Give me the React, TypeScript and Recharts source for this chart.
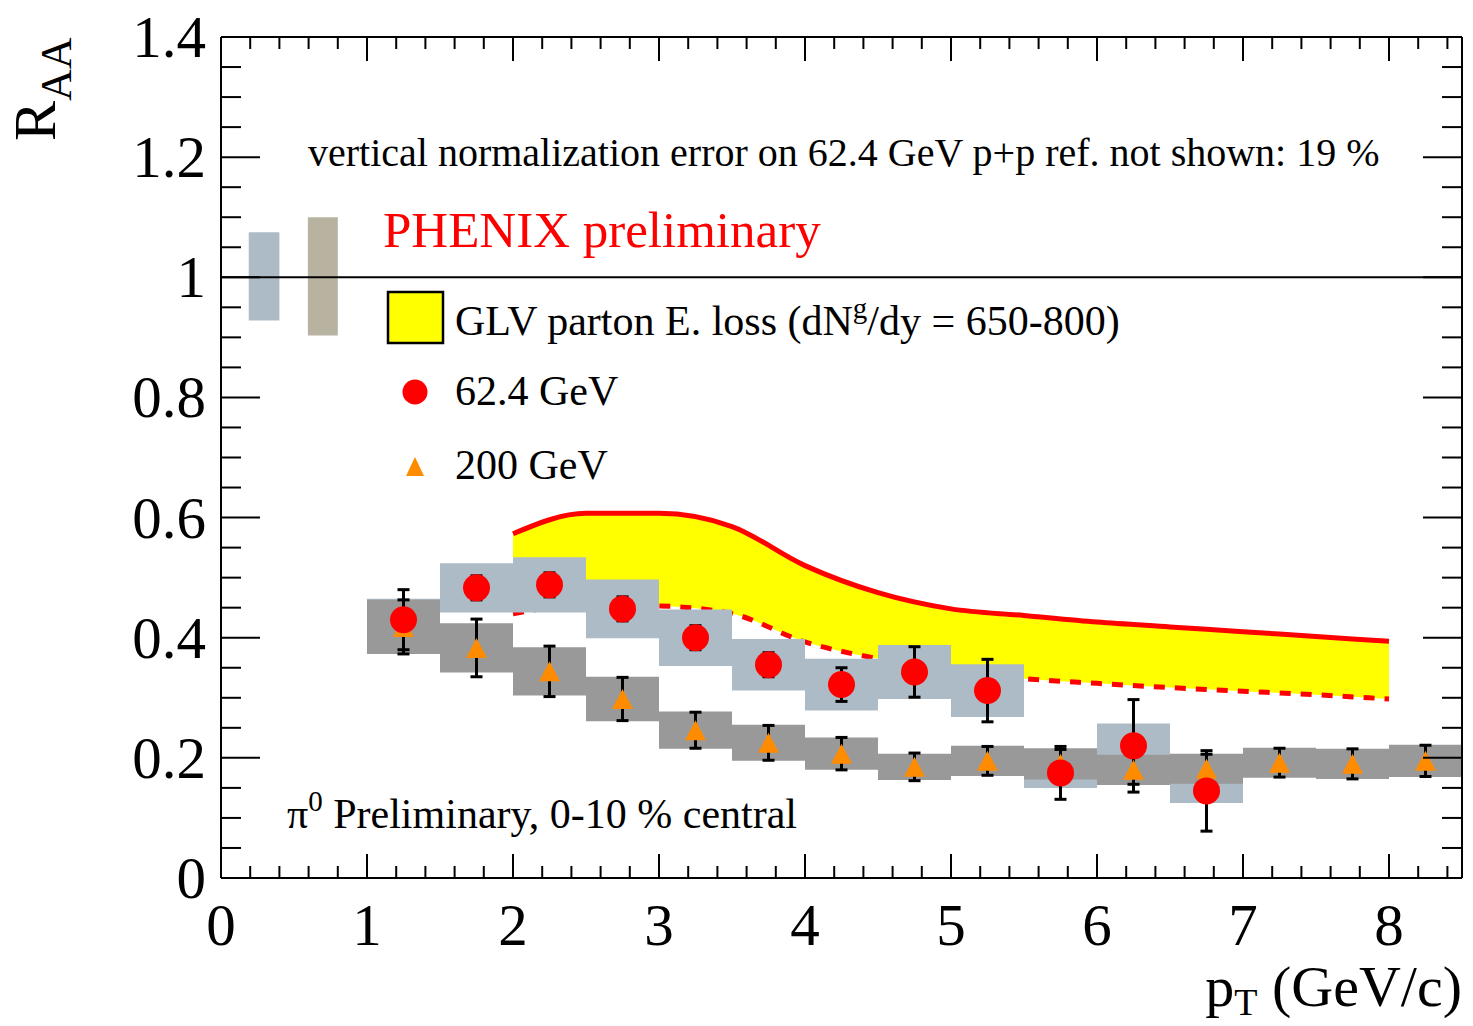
import {
  Area,
  ComposedChart,
  ErrorBar,
  Line,
  ReferenceArea,
  ReferenceLine,
  Scatter,
  XAxis,
  YAxis,
} from "recharts";

const FONT = '"Liberation Serif", "Times New Roman", serif';

// 62.4 GeV Au+Au pi0 RAA
const pt62 = [1.25, 1.75, 2.25, 2.75, 3.25, 3.75, 4.25, 4.75, 5.25, 5.75, 6.25, 6.75];
const raa62 = [0.43, 0.483, 0.488, 0.448, 0.4, 0.355, 0.322, 0.343, 0.312, 0.175, 0.22, 0.145];
const stat62 = [0.05, 0.02, 0.02, 0.02, 0.02, 0.02, 0.028, 0.042, 0.052, 0.044, 0.077, 0.067];
const sys62 = [0.035, 0.041, 0.046, 0.049, 0.047, 0.043, 0.043, 0.045, 0.044, 0.025, 0.037, 0.02];

// 200 GeV Au+Au pi0 RAA
const pt200 = [1.25, 1.75, 2.25, 2.75, 3.25, 3.75, 4.25, 4.75, 5.25, 5.75, 6.25, 6.75, 7.25, 7.75, 8.25];
const raa200 = [0.418, 0.383, 0.344, 0.298, 0.246, 0.225, 0.207, 0.185, 0.195, 0.19, 0.18, 0.182, 0.192, 0.19, 0.195];
const stat200 = [0.045, 0.048, 0.042, 0.036, 0.03, 0.029, 0.027, 0.023, 0.024, 0.024, 0.024, 0.024, 0.024, 0.025, 0.026];
const sys200 = [0.045, 0.041, 0.04, 0.037, 0.031, 0.03, 0.027, 0.022, 0.025, 0.026, 0.025, 0.025, 0.025, 0.025, 0.027];

// GLV parton energy loss band
const glvPt = [2, 2.5, 3, 3.5, 4, 4.5, 5, 5.5, 6, 6.5, 7, 7.5, 8];
const glvHigh = [0.573, 0.607, 0.607, 0.585, 0.52, 0.475, 0.448, 0.437, 0.426, 0.418, 0.41, 0.402, 0.394];
const glvLow = [0.44, 0.455, 0.453, 0.44, 0.393, 0.365, 0.345, 0.332, 0.324, 0.317, 0.311, 0.305, 0.298];

// normalization boxes at RAA = 1
const normX1 = [0.19, 0.595];
const normX2 = [0.4, 0.8];
const normLow = [0.928, 0.903];
const normHigh = [1.075, 1.1];
const normColor = ["#adbbc7", "#b8b3a0"];

const xTicks = Array.from({ length: 43 }, (_, k) => (k * 2) / 10);
const yTicks = Array.from({ length: 29 }, (_, k) => (k * 5) / 100);

const glvData = glvPt.map((x, i) => ({ x, lo: glvLow[i], hi: glvHigh[i], band: [glvLow[i], glvHigh[i]] }));
const data62 = pt62.map((x, i) => ({ x, y: raa62[i], err: stat62[i] }));
const data200 = pt200.map((x, i) => ({ x, y: raa200[i], err: stat200[i] }));

const isMajorY = (v: number) => Math.abs(v * 5 - Math.round(v * 5)) < 1e-9;

function BottomTick(p: any) {
  const v = p.payload.value as number;
  const major = Number.isInteger(v);
  return (
    <g>
      <line x1={p.x} x2={p.x} y1={p.y} y2={p.y - (major ? 24 : 12)} stroke="#000" strokeWidth={2} />
      {major && (
        <text x={p.x} y={p.y + 67} textAnchor="middle" fontSize={59} fontFamily={FONT} fill="#000">
          {v}
        </text>
      )}
    </g>
  );
}

function TopTick(p: any) {
  const major = Number.isInteger(p.payload.value);
  return <line x1={p.x} x2={p.x} y1={p.y} y2={p.y + (major ? 24 : 12)} stroke="#000" strokeWidth={2} />;
}

function LeftTick(p: any) {
  const v = p.payload.value as number;
  const major = isMajorY(v);
  return (
    <g>
      <line x1={p.x} x2={p.x + (major ? 39 : 20)} y1={p.y} y2={p.y} stroke="#000" strokeWidth={2} />
      {major && (
        <text x={p.x - 15} y={p.y + 20} textAnchor="end" fontSize={59} fontFamily={FONT} fill="#000">
          {String(Math.round(v * 10) / 10)}
        </text>
      )}
    </g>
  );
}

function RightTick(p: any) {
  const major = isMajorY(p.payload.value);
  return <line x1={p.x} x2={p.x - (major ? 39 : 20)} y1={p.y} y2={p.y} stroke="#000" strokeWidth={2} />;
}

const RedDot = (p: any) => <circle cx={p.cx} cy={p.cy} r={13.5} fill="#ff0000" />;
const OrangeTri = (p: any) => (
  <polygon
    points={`${p.cx},${p.cy - 10} ${p.cx - 10.5},${p.cy + 10} ${p.cx + 10.5},${p.cy + 10}`}
    fill="#ff8c00"
  />
);

const axisLine = { stroke: "#000", strokeWidth: 2 };

export default function App() {
  return (
    <div style={{ position: "absolute", left: 0, top: 0, width: 1473, height: 1026, background: "#fff" }}>
      <ComposedChart width={1473} height={1026} data={glvData} margin={{ top: 0, right: 0, bottom: 0, left: 0 }}>
        <XAxis
          type="number"
          dataKey="x"
          domain={[0, 8.5]}
          allowDataOverflow
          ticks={xTicks}
          interval={0}
          tickSize={0}
          tickMargin={0}
          tickLine={false}
          tick={(p: any) => <BottomTick {...p} />}
          height={148}
          axisLine={axisLine}
        />
        <XAxis
          xAxisId="top"
          orientation="top"
          type="number"
          dataKey="x"
          domain={[0, 8.5]}
          allowDataOverflow
          ticks={xTicks}
          interval={0}
          tickSize={0}
          tickMargin={0}
          tickLine={false}
          tick={(p: any) => <TopTick {...p} />}
          height={37}
          axisLine={axisLine}
        />
        <YAxis
          type="number"
          domain={[0, 1.4]}
          allowDataOverflow
          ticks={yTicks}
          interval={0}
          tickSize={0}
          tickMargin={0}
          tickLine={false}
          tick={(p: any) => <LeftTick {...p} />}
          width={221}
          axisLine={axisLine}
        />
        <YAxis
          yAxisId="right"
          orientation="right"
          type="number"
          domain={[0, 1.4]}
          allowDataOverflow
          ticks={yTicks}
          interval={0}
          tickSize={0}
          tickMargin={0}
          tickLine={false}
          tick={(p: any) => <RightTick {...p} />}
          width={11}
          axisLine={axisLine}
        />

        <Area
          type="monotone"
          dataKey="band"
          fill="#ffff00"
          fillOpacity={1}
          stroke="none"
          isAnimationActive={false}
          zIndex={100}
        />
        <Line
          type="monotone"
          dataKey="hi"
          stroke="#ff0000"
          strokeWidth={5}
          dot={false}
          isAnimationActive={false}
          zIndex={110}
        />
        <Line
          type="monotone"
          dataKey="lo"
          stroke="#ff0000"
          strokeWidth={5}
          strokeDasharray="11 10"
          dot={false}
          isAnimationActive={false}
          zIndex={110}
        />

        {pt62.map((x, i) => (
          <ReferenceArea
            key={`s62-${i}`}
            x1={x - 0.25}
            x2={x + 0.25}
            y1={raa62[i] - sys62[i]}
            y2={raa62[i] + sys62[i]}
            fill="#adbbc7"
            fillOpacity={1}
            stroke="none"
            zIndex={200}
          />
        ))}
        {pt200.map((x, i) => (
          <ReferenceArea
            key={`s200-${i}`}
            x1={x - 0.25}
            x2={x + 0.25}
            y1={raa200[i] - sys200[i]}
            y2={raa200[i] + sys200[i]}
            fill="#999999"
            fillOpacity={1}
            stroke="none"
            zIndex={210}
          />
        ))}
        {normX1.map((x, i) => (
          <ReferenceArea
            key={`norm-${i}`}
            x1={x}
            x2={normX2[i]}
            y1={normLow[i]}
            y2={normHigh[i]}
            fill={normColor[i]}
            fillOpacity={1}
            stroke="none"
            zIndex={210}
          />
        ))}
        <ReferenceLine y={1} stroke="#000" strokeWidth={2} zIndex={220} />

        <Scatter data={data200} dataKey="y" shape={OrangeTri} isAnimationActive={false} zIndex={600}>
          <ErrorBar dataKey="err" direction="y" width={6} strokeWidth={3} stroke="#000" />
        </Scatter>
        <Scatter data={data62} dataKey="y" shape={RedDot} isAnimationActive={false} zIndex={610}>
          <ErrorBar dataKey="err" direction="y" width={6} strokeWidth={3} stroke="#000" />
        </Scatter>
      </ComposedChart>

      <svg
        width={1473}
        height={1026}
        style={{ position: "absolute", left: 0, top: 0, pointerEvents: "none" }}
        fontFamily={FONT}
      >
        <text x={308} y={166} fontSize={40} fill="#000">
          vertical normalization error on 62.4 GeV p+p ref. not shown: 19 %
        </text>
        <text x={383} y={247} fontSize={51} fill="#ff0000">
          PHENIX preliminary
        </text>

        <rect x={388} y={292} width={55} height={51} fill="#ffff00" stroke="#000" strokeWidth={2.5} />
        <text x={455} y={335} fontSize={42} fill="#000">
          GLV parton E. loss (dN
          <tspan fontSize={29} dy={-17}>g</tspan>
          <tspan dy={17}>/dy = 650-800)</tspan>
        </text>
        <circle cx={415} cy={392} r={12.5} fill="#ff0000" />
        <text x={455} y={405} fontSize={42} fill="#000">
          62.4 GeV
        </text>
        <polygon points="415,457 406,476 424,476" fill="#ff8c00" />
        <text x={455} y={479} fontSize={42} fill="#000">
          200 GeV
        </text>

        <text x={287} y={828} fontSize={42} fill="#000">
          π<tspan fontSize={29} dy={-17}>0</tspan>
          <tspan dy={17}> Preliminary, 0-10 % central</tspan>
        </text>

        <text x={1462} y={1006} fontSize={58} textAnchor="end" fill="#000">
          p<tspan fontSize={38} dy={9}>T</tspan>
          <tspan dy={-9}> (GeV/c)</tspan>
        </text>
        <text x={55} y={141} fontSize={60} fill="#000" transform="rotate(-90 55 141)">
          R<tspan fontSize={44} dy={16}>AA</tspan>
        </text>
      </svg>
    </div>
  );
}
